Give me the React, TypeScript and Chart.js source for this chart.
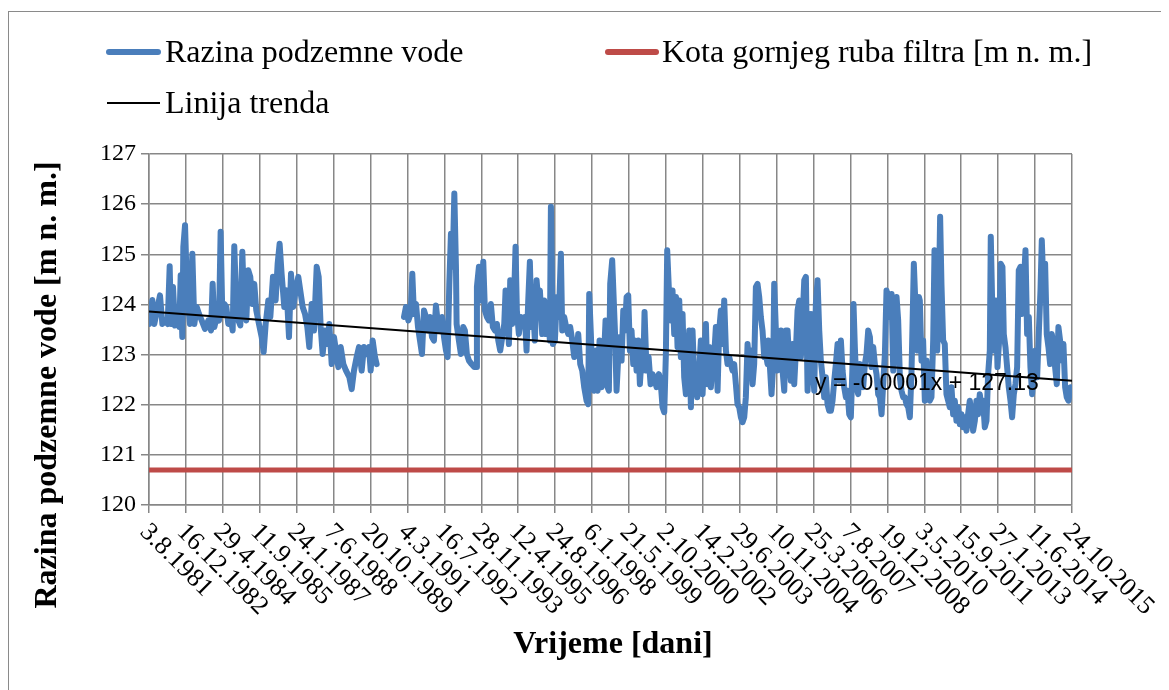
import { useEffect, useRef } from "react";
import { Chart, registerables } from "chart.js";

Chart.register(...registerables);

// ---------- DATA ----------
// x values are days counted from 3.8.1981 (tick step = 500 days)
const xTickLabels = [
  "3.8.1981", "16.12.1982", "29.4.1984", "11.9.1985", "24.1.1987", "7.6.1988",
  "20.10.1989", "4.3.1991", "16.7.1992", "28.11.1993", "12.4.1995", "24.8.1996",
  "6.1.1998", "21.5.1999", "2.10.2000", "14.2.2002", "29.6.2003", "10.11.2004",
  "25.3.2006", "7.8.2007", "19.12.2008", "3.5.2010", "15.9.2011", "27.1.2013",
  "11.6.2014", "24.10.2015",
];
const tickStepDays = 500;
const yTicks = [120, 121, 122, 123, 124, 125, 126, 127];

const seriesNames = ["Razina podzemne vode", "Kota gornjeg ruba filtra [m n. m.]", "Linija trenda"];

const daysA = [0,45,72,104,149,181,217,253,280,298,325,352,384,411,429,451,465,488,510,533,555,587,614,646,677,713,758,803,840,862,885,916,948,970,993,1020,1047,1074,1110,1133,1155,1183,1210,1237,1264,1291,1318,1345,1372,1399,1426,1453,1489,1526,1553,1580,1616,1643,1679,1715,1742,1769,1796,1832,1864,1896,1923,1954,1986,2022];
const levelsA = [123.61,124.09,123.61,123.85,124.18,123.61,123.68,123.61,124.76,123.61,124.35,123.58,123.68,123.55,124.58,123.35,125.15,125.58,124.48,123.95,123.61,125.01,123.61,123.95,123.81,123.68,123.51,123.68,123.48,124.41,123.55,123.75,123.68,125.45,123.81,124.01,123.95,123.61,123.71,123.48,125.16,123.95,123.68,123.58,125.05,123.81,123.68,124.68,124.55,124.01,124.41,123.88,123.61,123.35,123.05,123.61,124.08,123.75,124.55,124.08,124.81,125.21,124.61,123.95,124.28,123.35,124.61,123.95,124.28,124.55];

const daysB = [2081,2113,2144,2171,2203,2235,2271,2298,2325,2352,2383,2415,2442,2474,2505,2532,2564,2596,2632,2668,2713,2745,2776,2812,2844,2880,2911,2948,2979,3002,3029,3060,3083];
const levelsB = [123.95,123.81,123.55,123.15,124.01,123.48,124.75,124.55,123.55,123.01,123.48,123.21,123.61,122.81,123.35,123.08,122.75,123.15,122.81,122.68,122.55,122.31,122.68,122.95,123.15,122.68,123.15,123.01,123.15,122.68,123.28,122.95,122.81];

// no measurements between these two segments
const gapDay = 3270;

const daysC = [3453,3480,3512,3543,3566,3588,3616,3643,3670,3697,3724,3751,3778,3805,3832,3859,3886,3913,3940,3968,3995,4022,4044,4067,4089,4112,4135,4157];
const levelsC = [123.75,123.95,123.68,123.81,124.61,123.81,124.01,123.55,123.28,123.01,123.88,123.75,123.48,123.75,123.35,123.28,123.98,123.61,123.48,123.75,123.35,123.08,122.95,124.41,125.41,124.75,126.21,124.75];

const daysD = [4166,4197,4224,4256,4278,4305,4333,4369,4405,4432,4441,4468,4495,4527,4549,4576,4603,4630,4657,4685,4712,4730,4757,4784,4811,4829,4856,4874,4892,4919,4942,4964,4982,5009,5037,5064,5091,5113,5136,5158,5181,5204,5226,5249,5271,5294,5325,5352,5375,5407,5429,5443,5470,5497,5524,5551,5578,5596,5623,5650,5677,5704,5732,5759,5786,5813,5840,5867,5894,5926,5948,5962,5984,6007,6029,6056,6075,6102,6129,6156,6183,6210,6228,6246,6273];
const levelsD = [123.61,123.28,123.01,123.55,123.48,123.01,122.88,122.81,122.75,122.75,124.35,124.75,124.08,124.85,123.88,123.75,123.68,124.01,123.55,123.48,123.61,123.28,123.08,123.35,123.61,124.28,123.81,123.21,124.48,123.61,124.01,125.15,123.88,123.41,123.75,123.61,123.75,123.08,124.08,124.85,123.55,123.88,123.28,124.48,124.08,124.28,123.41,124.08,123.41,123.75,123.28,125.95,123.21,123.28,124.15,123.75,125.01,123.48,123.75,123.55,123.41,123.55,123.28,122.95,123.01,123.41,122.81,122.68,122.35,122.08,122.01,124.21,123.41,122.48,122.28,123.08,122.28,123.28,122.35,122.75,123.68,122.35,122.28,124.41,124.88];

const daysE = [6310,6332,6355,6377,6400,6423,6445,6468,6490,6513,6535,6558,6580,6603,6626,6648,6671,6693,6711,6738,6766,6793,6820,6851,6874,6905,6928,6955,6978,7000,7018,7045,7068,7090,7113,7136,7158,7181,7203,7226,7248,7271,7294,7316,7339,7361,7379,7406,7424,7451,7474,7497,7519,7542,7564,7587,7609,7632,7655,7677,7700,7722,7745,7767,7790,7813,7835,7858,7880,7903,7925,7948,7970,7993,8016,8038,8061,8083,8106,8128,8151,8174,8196,8219,8241,8264,8286,8309,8332,8354,8377];
const levelsE = [123.48,122.28,122.95,123.35,122.88,123.88,123.48,124.15,124.18,123.08,123.48,122.81,123.28,122.68,123.28,122.41,122.95,122.68,123.85,122.68,122.95,122.41,122.61,122.48,122.35,122.61,122.48,121.95,121.85,123.01,125.08,124.15,123.68,124.28,123.41,124.15,123.15,124.08,122.95,123.81,122.55,122.21,122.81,123.48,121.95,123.48,122.75,122.81,122.15,122.68,123.28,122.21,122.95,123.61,122.41,123.15,122.35,122.81,123.01,123.55,122.28,123.48,123.88,123.21,124.08,123.08,122.81,122.95,122.81,122.68,122.81,122.41,122.01,121.95,121.75,121.65,121.75,122.15,123.21,122.81,123.08,122.41,122.81,124.35,124.41,124.15,123.75,123.48,122.95,123.01,122.81];

const daysF = [8386,8409,8431,8454,8467,8490,8512,8535,8558,8580,8603,8625,8648,8670,8693,8716,8738,8761,8783,8806,8828,8851,8874,8896,8919,8941,8964,8986,9009,9031,9054,9077,9099,9122,9144,9167,9189,9212,9235,9257,9280,9302,9325,9347,9370,9393,9415,9438,9460,9483,9505,9528,9541,9559,9582,9604,9627,9650,9672,9695,9717,9740,9763,9785,9808,9830,9853,9875,9898,9921,9943,9966,9988,10011,10033,10056,10079,10101,10124,10146,10169,10191,10214,10236,10259,10282,10304,10327,10358,10381,10408,10426];
const levelsF = [123.28,122.75,122.21,122.81,124.41,123.48,122.68,122.88,123.48,122.68,122.28,123.48,123.48,122.88,122.48,123.21,122.41,123.08,123.88,124.08,122.95,123.68,124.48,124.55,122.28,123.15,123.81,122.81,122.28,124.01,124.48,123.48,122.88,122.55,122.15,122.55,122.01,121.88,121.88,122.08,122.48,122.81,123.21,122.48,123.28,122.68,122.35,122.15,122.28,121.81,121.75,122.81,124.01,123.15,122.35,122.21,122.81,122.48,122.35,122.81,123.01,123.48,123.35,122.75,123.15,122.81,122.61,122.21,122.15,121.81,122.41,123.01,124.28,124.15,123.75,124.21,122.68,123.48,124.15,123.68,122.55,122.28,122.15,122.15,122.01,121.95,121.75,122.68,124.81,123.95,123.08,124.15];

const daysG = [10439,10462,10484,10507,10529,10552,10574,10597,10620,10638,10656,10674,10696,10714,10732,10755,10777,10800,10823,10845,10868,10890,10913,10935,10958,10981,11003,11026,11048,11071,11093,11116,11138,11161,11184,11206,11229,11251,11274,11296,11319,11342,11364,11387,11400,11423,11445,11468,11491,11513,11536,11558,11576,11599,11621,11644,11667,11689,11712,11734,11757,11779,11802,11825,11847,11870,11892,11915,11937,11960,11982,12005,12028,12050,12073,12091,12113,12136,12158,12181,12204,12226,12249,12271,12294,12316,12339,12362,12384,12407,12429,12452,12479];
const levelsG = [124.08,122.88,123.28,122.08,122.88,122.35,122.08,122.15,123.28,125.08,123.41,123.08,124.08,125.75,124.41,123.28,123.21,122.21,122.08,121.95,122.35,121.81,122.08,121.68,121.95,121.61,121.81,121.55,121.75,121.48,121.81,122.08,121.81,121.48,121.68,122.08,121.81,122.21,121.95,122.08,121.55,121.68,122.61,123.08,125.35,123.75,123.08,124.08,122.75,123.28,124.81,124.75,123.41,123.15,122.75,122.35,122.08,121.75,122.21,122.41,122.75,124.68,124.75,123.81,124.41,125.08,123.41,123.75,122.75,122.21,122.61,123.08,122.55,123.41,124.28,125.28,124.35,124.81,123.41,123.15,122.81,123.41,123.21,122.75,122.41,123.55,123.28,122.88,123.21,122.35,122.15,122.08,122.35];

const filterDays = [0, 12500];
const filterLevels = [120.7, 120.7];

const trendDays = [0, 12500];
const trendLevels = [123.86, 122.48];
const trendEquation = "y = -0.0001x + 127.13";
const trendLabelDay = 9020;
const trendLabelLevel = 122.29;

// ---------- STYLE ----------
const BLUE = "#4A7EBB";
const RED = "#BE4B48";
const GRID = "#878787";
const SERIF = "'Liberation Serif', 'Times New Roman', serif";
const SANS = "'Liberation Sans', Arial, sans-serif";

const CW = 1154;
const CH = 680;

function pairs(days: number[], vals: (number | null)[]) {
  return days.map((d, i) => ({ x: d, y: vals[i] }));
}

export default function App() {
  const ref = useRef<HTMLCanvasElement | null>(null);

  useEffect(() => {
    const canvas = ref.current;
    if (!canvas) return;

    const levelPoints = [
      ...pairs(daysA, levelsA),
      ...pairs(daysB, levelsB),
      { x: gapDay, y: null },
      ...pairs(daysC, levelsC),
      ...pairs(daysD, levelsD),
      ...pairs(daysE, levelsE),
      ...pairs(daysF, levelsF),
      ...pairs(daysG, levelsG),
    ];

    const decor = {
      id: "decor",
      afterDatasetsDraw(chart: any) {
        const ctx = chart.ctx as CanvasRenderingContext2D;
        const xs = chart.scales.x;
        const ys = chart.scales.y;
        ctx.save();
        ctx.fillStyle = "#000";
        ctx.font = `23px ${SANS}`;
        ctx.textAlign = "left";
        ctx.textBaseline = "alphabetic";
        ctx.fillText(trendEquation, xs.getPixelForValue(trendLabelDay), ys.getPixelForValue(trendLabelLevel));
        ctx.restore();
      },
      afterDraw(chart: any) {
        const ctx = chart.ctx as CanvasRenderingContext2D;
        const xs = chart.scales.x;
        const area = chart.chartArea;
        ctx.save();
        ctx.fillStyle = "#000";

        // x tick labels, rotated 45deg clockwise, starting at the tick
        ctx.font = `26px ${SERIF}`;
        ctx.textAlign = "left";
        ctx.textBaseline = "top";
        xTickLabels.forEach((lab, i) => {
          const px = xs.getPixelForValue(i * tickStepDays);
          ctx.save();
          ctx.translate(px + 4, area.bottom + 14);
          ctx.rotate(Math.PI / 4);
          ctx.fillText(lab, 0, 0);
          ctx.restore();
        });

        // axis titles
        ctx.font = `bold 32px ${SERIF}`;
        ctx.textAlign = "center";
        ctx.textBaseline = "alphabetic";
        ctx.fillText("Vrijeme [dani]", 604, 641);
        ctx.save();
        ctx.translate(47, 373);
        ctx.rotate(-Math.PI / 2);
        ctx.fillText("Razina podzemne vode [m n. m.]", 0, 0);
        ctx.restore();

        // legend
        const drawSample = (x1: number, x2: number, y: number, color: string, w: number, cap: CanvasLineCap) => {
          ctx.beginPath();
          ctx.strokeStyle = color;
          ctx.lineWidth = w;
          ctx.lineCap = cap;
          ctx.moveTo(x1, y);
          ctx.lineTo(x2, y);
          ctx.stroke();
        };
        drawSample(100, 149, 40, BLUE, 6, "round");
        drawSample(599, 647, 40, RED, 6, "round");
        drawSample(98, 151, 91, "#000", 2, "butt");
        ctx.font = `32px ${SERIF}`;
        ctx.textAlign = "left";
        ctx.fillText(seriesNames[0], 156, 50);
        ctx.fillText(seriesNames[1], 653, 50);
        ctx.fillText(seriesNames[2], 156, 101);
        ctx.restore();
      },
    };

    const chart = new Chart(canvas, {
      type: "line",
      data: {
        datasets: [
          {
            label: seriesNames[0],
            data: levelPoints as any,
            borderColor: BLUE,
            borderWidth: 6,
            pointRadius: 0,
            spanGaps: false,
            borderJoinStyle: "round",
            borderCapStyle: "round",
            tension: 0,
            order: 3,
          },
          {
            label: seriesNames[1],
            data: pairs(filterDays, filterLevels) as any,
            borderColor: RED,
            borderWidth: 5,
            pointRadius: 0,
            order: 2,
          },
          {
            label: seriesNames[2],
            data: pairs(trendDays, trendLevels) as any,
            borderColor: "#000",
            borderWidth: 2,
            pointRadius: 0,
            order: 1,
          },
        ],
      },
      options: {
        responsive: false,
        animation: false,
        events: [],
        layout: { padding: { top: 142, right: 91, left: 0, bottom: 0 } },
        plugins: { legend: { display: false }, tooltip: { enabled: false } },
        scales: {
          x: {
            type: "linear",
            min: 0,
            max: tickStepDays * (xTickLabels.length - 1),
            ticks: { stepSize: tickStepDays, display: false },
            grid: { color: GRID, lineWidth: 1.5, tickLength: 8 },
            border: { color: GRID, width: 1.5 },
            afterFit: (s: any) => {
              s.height = CH - 493;
            },
          },
          y: {
            type: "linear",
            min: yTicks[0],
            max: yTicks[yTicks.length - 1],
            ticks: {
              stepSize: 1,
              color: "#000",
              padding: 5,
              font: { family: SERIF, size: 24 },
            },
            grid: { color: GRID, lineWidth: 1.5, tickLength: 8 },
            border: { color: GRID, width: 1.5 },
            afterFit: (s: any) => {
              s.width = 140;
            },
          },
        },
      },
      plugins: [decor],
    } as any);

    return () => chart.destroy();
  }, []);

  return (
    <div
      style={{
        position: "relative",
        top: 3,
        width: CW,
        height: CH,
        border: "1px solid #8a8a8a",
        background: "#fff",
      }}
    >
      <canvas ref={ref} width={CW} height={CH} style={{ display: "block", width: CW, height: CH }} />
    </div>
  );
}
